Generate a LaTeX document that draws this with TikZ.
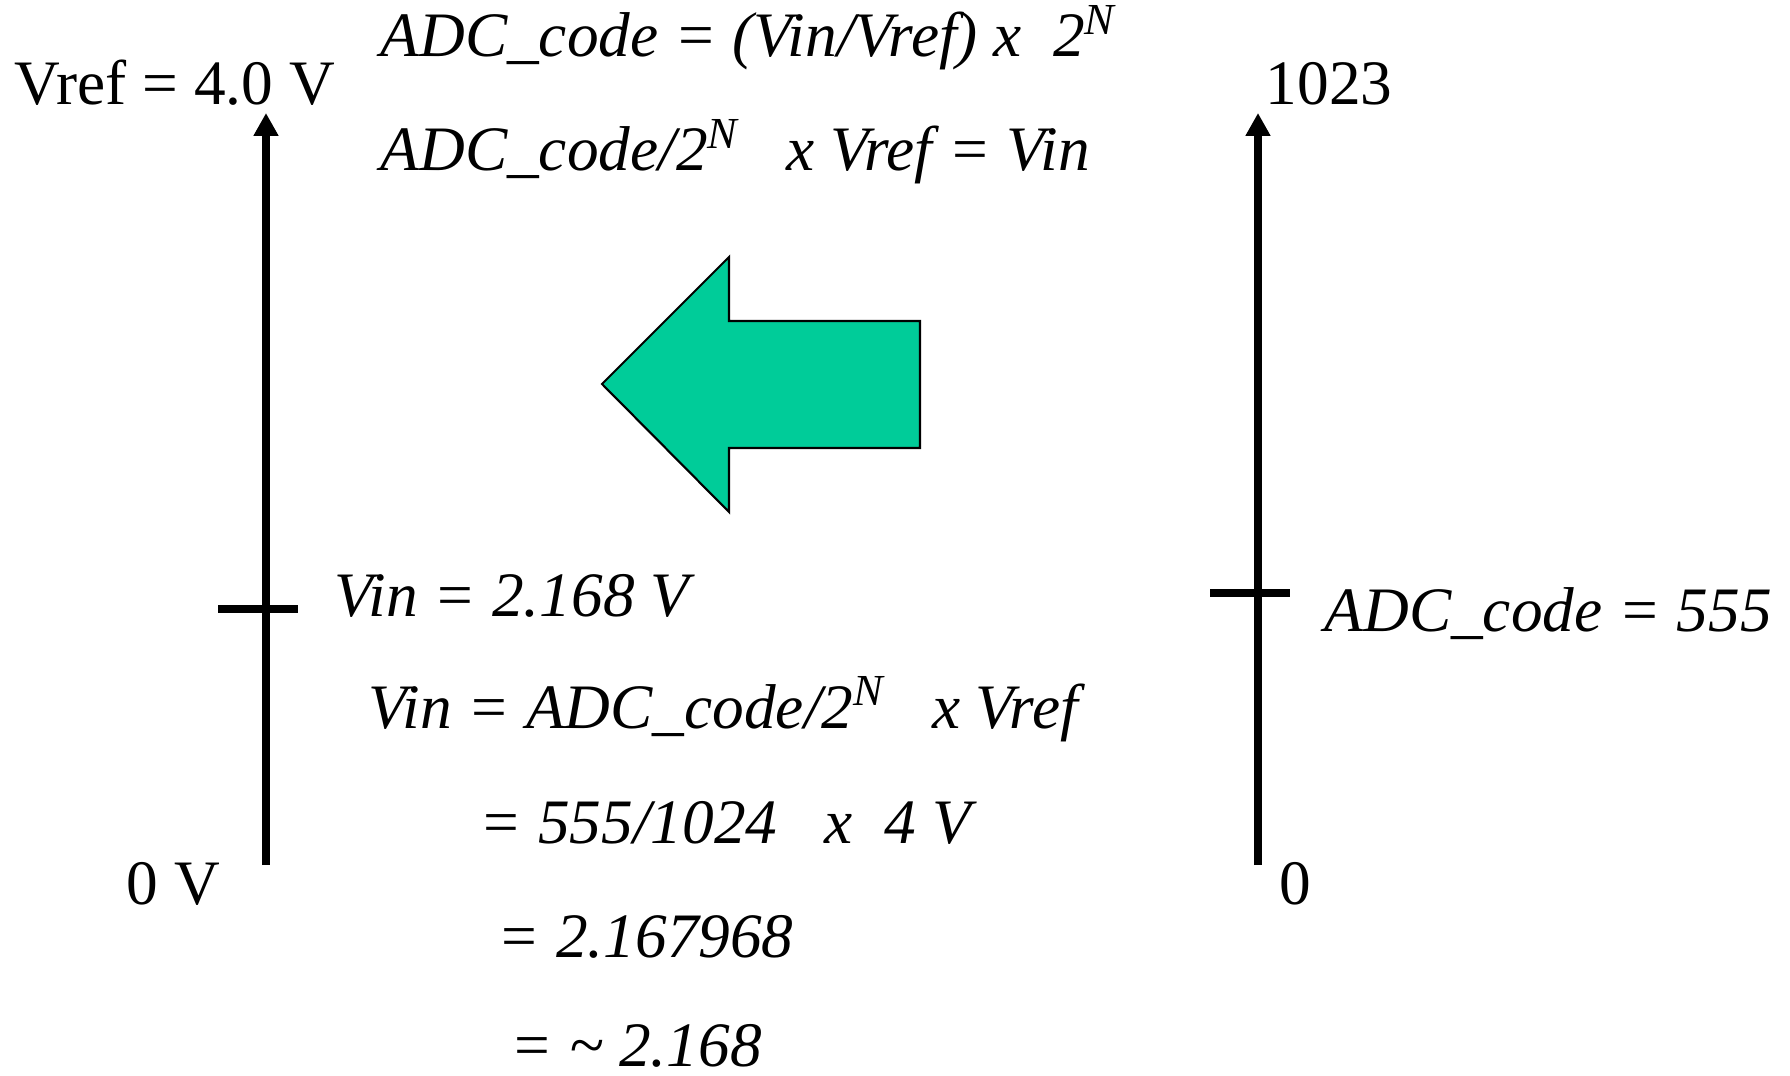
\documentclass[tikz,border=0pt]{standalone}
\usepackage{fontspec}
\setmainfont{Liberation Serif}
\usetikzlibrary{arrows.meta}
\definecolor{arrgreen}{RGB}{0,204,153}
\tikzstyle{lbl}=[inner sep=0pt,anchor=base west,font=\fontsize{18}{22}\selectfont]
\tikzstyle{eq}=[lbl,font=\fontsize{18}{22}\selectfont\itshape]
\tikzstyle{axis}=[line width=2.1pt,-{Triangle[width=6.7pt,length=6.5pt]}]
\tikzstyle{tick}=[line width=2pt]
\tikzstyle{bigarr}=[fill=arrgreen,draw=black,line width=0.6pt,line join=miter]

\begin{document}
\begin{tikzpicture}[x=0.01cm,y=-0.01cm]
\useasboundingbox (0,0) rectangle (1790,1076);
% left scale (volts)
\coordinate (lbot) at (266,865);
\coordinate (ltop) at (266,113);
\coordinate (ltickl) at (218,609);
\coordinate (ltickr) at (298,609);
\draw[axis] (lbot) -- (ltop);
\draw[tick] (ltickl) -- (ltickr);
\node[lbl] (vref) at (14,105) {Vref = 4.0 V};
\node[lbl] (zerov) at (126,904) {0 V};
% right scale (codes)
\coordinate (rbot) at (1258,865);
\coordinate (rtop) at (1258,113);
\coordinate (rtickl) at (1210,593);
\coordinate (rtickr) at (1290,593);
\draw[axis] (rbot) -- (rtop);
\draw[tick] (rtickl) -- (rtickr);
\node[lbl] (top) at (1265,105) {1023};
\node[lbl] (zero) at (1279,904) {0};
\node[eq] (code) at (1324,631) {ADC\_code = 555};
% formulas
\node[eq] (fwd) at (380,57) {ADC\_code = (Vin/Vref) x\ \ 2\textsuperscript{N}};
\node[eq] (inv) at (380,171) {ADC\_code/2\textsuperscript{N}\hspace{0.75em}x Vref = Vin};
\node[eq] (vin) at (334,616) {Vin = 2.168 V};
\node[eq] (calc1) at (368,728) {Vin = ADC\_code/2\textsuperscript{N}\hspace{0.75em}x Vref};
\node[eq] (calc2) at (479,843) {= 555/1024\hspace{0.75em}x\ \ 4 V};
\node[eq] (calc3) at (497,957) {= 2.167968};
\node[eq] (calc4) at (510,1066) {= \textasciitilde\ 2.168};
% block arrow, code to voltage
\draw[bigarr] (602,384) -- (729,257) -- (729,321) -- (920,321)
  -- (920,448) -- (729,448) -- (729,512) -- cycle;
\end{tikzpicture}
\end{document}
